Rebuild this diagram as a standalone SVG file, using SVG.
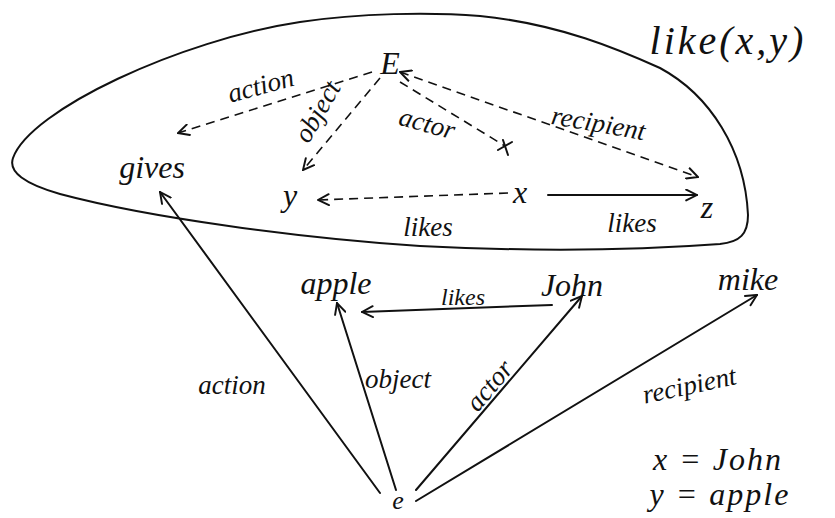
<svg xmlns="http://www.w3.org/2000/svg" width="835" height="518" viewBox="0 0 835 518">
<style>
  text { font-family: "Liberation Serif", "DejaVu Serif", serif; font-style: italic; fill: #111; text-anchor: middle; }
  .node { font-size: 32px; }
  .lbl { font-size: 27px; }
  .solid { stroke: #111; stroke-width: 2; fill: none; stroke-linecap: round; }
  .dash { stroke: #111; stroke-width: 1.6; fill: none; stroke-dasharray: 9 6; }
  .blob { stroke: #111; stroke-width: 2; fill: none; }
</style>
<defs>
  <marker id="arr" viewBox="0 0 12 12" refX="11" refY="6" markerWidth="13" markerHeight="13" markerUnits="userSpaceOnUse" orient="auto-start-reverse">
    <path d="M1,1 L11,6 L1,11" fill="none" stroke="#111" stroke-width="1.8" stroke-linecap="round"/>
  </marker>
</defs>
<rect width="835" height="518" fill="#fff"/>

<g id="frame">
  <path class="blob" d="M13,158 C30,110 180,40 300,22 C360,13 430,12 480,16 C560,24 620,50 660,68 C710,95 745,150 748,215 C748,234 740,242 720,244 C640,250 540,252 420,246 C300,238 150,218 60,194 C25,184 8,172 13,158 Z"/>
  <text class="node" x="728" y="54" style="font-size:40px; letter-spacing:3px">like(x,y)</text>
</g>

<g id="connectors">
  <line class="dash" x1="372" y1="72" x2="178" y2="133" marker-end="url(#arr)"/>
  <line class="dash" x1="380" y1="78" x2="303" y2="170" marker-end="url(#arr)"/>
  <line class="dash" x1="400" y1="82" x2="505" y2="146"/>
  <path class="solid" d="M498,150 L512,142 M503,140 L508,155" stroke-width="1.6"/>
  <line class="dash" x1="400" y1="72" x2="698" y2="177" marker-start="url(#arr)" marker-end="url(#arr)"/>
  <line class="dash" x1="508" y1="193" x2="318" y2="200" marker-end="url(#arr)"/>
  <line class="solid" x1="548" y1="195" x2="697" y2="195" marker-end="url(#arr)"/>
  <line class="solid" x1="552" y1="305" x2="362" y2="312" marker-end="url(#arr)"/>
  <line class="solid" x1="380" y1="493" x2="160" y2="192" marker-end="url(#arr)"/>
  <line class="solid" x1="396" y1="490" x2="337" y2="303" marker-end="url(#arr)"/>
  <line class="solid" x1="416" y1="490" x2="582" y2="296" marker-end="url(#arr)"/>
  <line class="solid" x1="416" y1="501" x2="757" y2="295" marker-end="url(#arr)"/>
</g>

<g id="edge-labels">
  <text class="lbl" x="263" y="94" transform="rotate(-15 263 94)">action</text>
  <text class="lbl" x="325" y="116" transform="rotate(-60 325 116)">object</text>
  <text class="lbl" x="425" y="132" transform="rotate(15 425 132)">actor</text>
  <text class="lbl" x="597" y="132" transform="rotate(10 597 132)">recipient</text>
  <text class="lbl" x="428" y="236">likes</text>
  <text class="lbl" x="632" y="232">likes</text>
  <text class="lbl" x="463" y="305" style="font-size:24px">likes</text>
  <text class="lbl" x="232" y="394">action</text>
  <text class="lbl" x="398" y="388">object</text>
  <text class="lbl" x="490" y="394" transform="rotate(-50 490 386)">actor</text>
  <text class="lbl" x="690" y="394" transform="rotate(-12 690 388)">recipient</text>
</g>

<g id="node-E"><text class="node" x="390" y="74">E</text></g>
<g id="node-gives"><text class="node" x="152" y="178">gives</text></g>
<g id="node-y"><text class="node" x="290" y="206">y</text></g>
<g id="node-x"><text class="node" x="520" y="203">x</text></g>
<g id="node-z"><text class="node" x="707" y="218">z</text></g>
<g id="node-apple"><text class="node" x="336" y="294">apple</text></g>
<g id="node-john"><text class="node" x="572" y="296">John</text></g>
<g id="node-mike"><text class="node" x="748" y="290">mike</text></g>
<g id="node-e"><text class="node" x="398" y="509" style="font-size:26px">e</text></g>

<g id="legend">
  <text class="node" x="718" y="470" style="letter-spacing:2px">x = John</text>
  <text class="node" x="720" y="505" style="letter-spacing:2px">y = apple</text>
</g>
</svg>
